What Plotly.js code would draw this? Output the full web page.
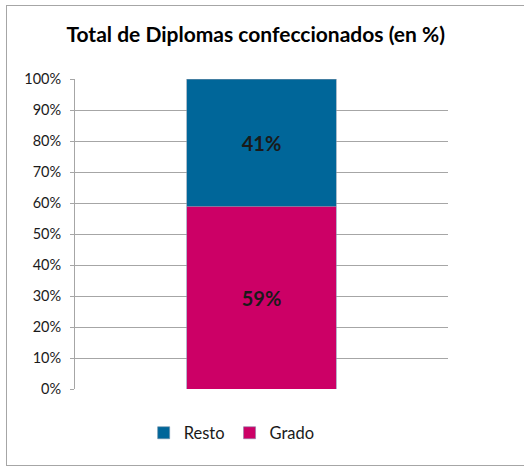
<!DOCTYPE html>
<html>
<head>
<meta charset="utf-8">
<script src="https://cdn.plot.ly/plotly-3.0.1.min.js"></script>
<style>
html,body{margin:0;padding:0;background:#fff;}
#wrap{position:relative;width:524px;height:468px;overflow:hidden;}
#chart{position:absolute;left:0;top:0;width:524px;height:468px;}
#frame{position:absolute;left:6px;top:5px;width:600px;height:459px;border:1px solid #a6a6a6;pointer-events:none;}
</style>
</head>
<body>
<div id="wrap"><div id="chart"></div><div id="frame"></div></div>
<script>
var categories = ['Total'];
var grado = [59];
var resto = [41];
var gradoLabels = ['59%'];
var restoLabels = ['41%'];

var font = 'Lato, "Open Sans", sans-serif';
var traces = [
  {type:'bar', name:'Grado', x:categories, y:grado, text:gradoLabels,
   textposition:'inside', insidetextanchor:'middle', textangle:0,
   textfont:{family:font, size:20, color:'#1a1a1a', weight:'bold'},
   marker:{color:'#CC0066', line:{color:'#8a7fa8', width:0.6}}, hoverinfo:'none'},
  {type:'bar', name:'Resto', x:categories, y:resto, text:restoLabels,
   textposition:'inside', insidetextanchor:'middle', textangle:0,
   textfont:{family:font, size:20, color:'#1a1a1a', weight:'bold'},
   marker:{color:'#006699', line:{color:'#6f8fa8', width:0.6}}, hoverinfo:'none'}
];
var layout = {
  width:524, height:468,
  margin:{l:75, r:76, t:79, b:79},
  paper_bgcolor:'rgba(0,0,0,0)', plot_bgcolor:'#fff',
  barmode:'stack', bargap:0.6,
  font:{family:font, size:14.5, color:'#1a1a1a'},
  title:{text:'Total de Diplomas confeccionados (en %)', font:{family:font, size:21, color:'#000', weight:'bold'},
         x:0.488, xanchor:'center', y:0.925, yanchor:'middle', yref:'container'},
  xaxis:{range:[-0.5,0.5], showticklabels:false, ticks:'', showgrid:false, zeroline:false, showline:false, fixedrange:true},
  yaxis:{range:[0,100], dtick:10, ticksuffix:'%', showline:true, linecolor:'#a6a6a6', linewidth:1,
         gridcolor:'#a6a6a6', gridwidth:1, zeroline:false, ticks:'outside', ticklen:4, tickcolor:'#a6a6a6',
         ticklabelstandoff:6,
         tickfont:{family:font, size:14.5, color:'#1a1a1a'}, fixedrange:true},
  showlegend:true,
  legend:{orientation:'h', traceorder:'reversed', x:0.42, xanchor:'center', y:-0.142, yanchor:'middle',
          font:{family:font, size:16.5, color:'#1a1a1a'}, itemwidth:30, bgcolor:'rgba(0,0,0,0)'}
};
Plotly.newPlot('chart', traces, layout, {displayModeBar:false, staticPlot:true});
</script>
</body>
</html>
